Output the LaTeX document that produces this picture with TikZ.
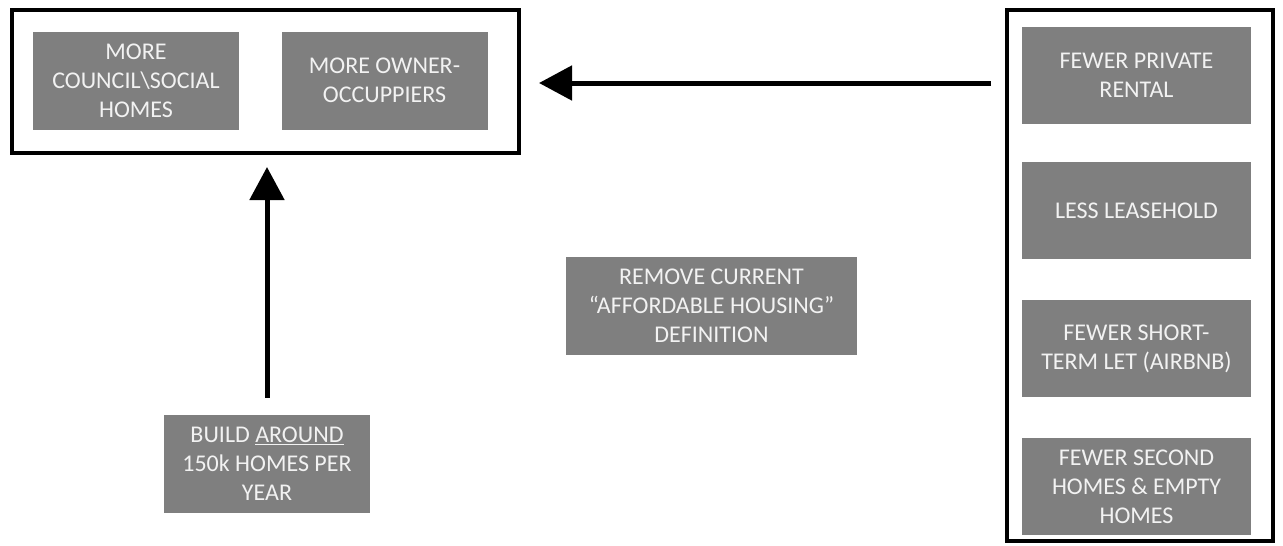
\documentclass[tikz,border=0pt]{standalone}
\usepackage{fontspec}
\setmainfont{Carlito}
\usetikzlibrary{positioning,arrows.meta}
\tikzset{>={Triangle[length=33pt,width=34pt]}}
\definecolor{boxgray}{RGB}{127,127,127}
\definecolor{boxtext}{RGB}{242,242,242}
\tikzset{
  item/.style={fill=boxgray,text=boxtext,align=center,inner sep=0pt,
    minimum width=206pt,minimum height=98pt,font=\fontsize{24}{29}\selectfont},
  frame/.style={draw,line width=4pt,inner sep=0pt},
  push/.style={->,line width=5pt}
}
\begin{document}
\begin{tikzpicture}[x=1pt,y=-1pt]
\useasboundingbox (0,0) rectangle (1283,546);
% left frame
\node[frame,minimum width=507pt,minimum height=143pt] (demand) at (265.5,81.5) {};
\node[item] (council) at (136,80.5) {MORE\\COUNCIL\textbackslash SOCIAL\\HOMES};
\node[item] (owner) at (384.5,80.5) {MORE OWNER-\\OCCUPPIERS};
% right frame
\node[frame,minimum width=266pt,minimum height=531pt] (supply) at (1140,275.5) {};
\node[item,minimum width=229pt,minimum height=97pt] (rental) at (1136.5,75.5) {FEWER PRIVATE\\RENTAL};
\node[item,minimum width=229pt,minimum height=97pt] (lease) at (1136.5,210.5) {LESS LEASEHOLD};
\node[item,minimum width=229pt,minimum height=97pt] (airbnb) at (1136.5,348.5) {FEWER SHORT-\\TERM LET (AIRBNB)};
\node[item,minimum width=229pt,minimum height=97pt] (empty) at (1136.5,486.5) {FEWER SECOND\\HOMES \& EMPTY\\HOMES};
% loose boxes
\node[item] (build) at (267,464) {BUILD \underline{AROUND}\\150k HOMES PER\\YEAR};
\node[item,minimum width=291pt] (remove) at (711.5,306) {REMOVE CURRENT\\“AFFORDABLE HOUSING”\\DEFINITION};
% arrows
\draw[push,shorten <=14pt,shorten >=18pt] (supply.west |- 0,83) -- (demand.east |- 0,83);
\draw[push,shorten <=17pt,shorten >=12pt] (build.north) -- (build.north |- demand.south);
\end{tikzpicture}
\end{document}
